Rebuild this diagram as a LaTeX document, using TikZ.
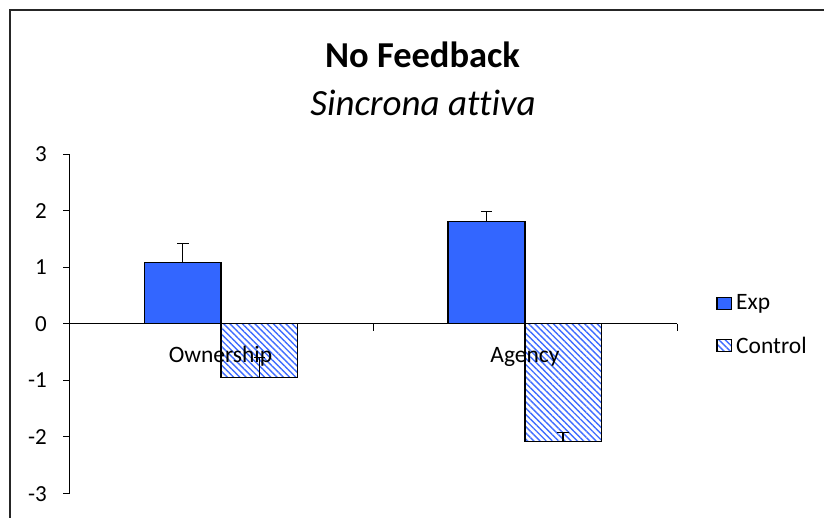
\documentclass[tikz,border=0pt]{standalone}
\usepackage{fontspec}
\setmainfont{Carlito}[Ligatures=NoCommon]
\usetikzlibrary{patterns.meta}
\definecolor{expblue}{HTML}{3366FF}
\definecolor{hatchblue}{HTML}{3F6CFF}
\tikzset{
  frame/.style={draw=black!85, line width=1.4pt},
  axisline/.style={draw=black, line width=1pt},
  expbar/.style={fill=expblue, draw=black, line width=1.5pt},
  ctrlbar/.style={pattern={Lines[angle=-45,distance=4.4pt,line width=1.4pt]}, pattern color=hatchblue, draw=black, line width=1.5pt},
  errbar/.style={draw=black, line width=1.3pt},
  ticklabel/.style={font=\fontsize{23}{26}\selectfont, anchor=east, inner sep=0pt},
  catlabel/.style={font=\fontsize{23.5}{27}\selectfont, anchor=base, inner sep=0pt},
  legendlabel/.style={font=\fontsize{23.5}{27}\selectfont, anchor=west, inner sep=0pt},
}
\begin{document}
\begin{tikzpicture}[x=1pt, y=-1pt]
\useasboundingbox (0,0) rectangle (824,517);
\begin{scope}
\clip (0,0) rectangle (824,517);
% outer chart frame (its right and bottom sides lie outside the page)
\draw[frame] (10,10) rectangle (840,540);

% titles
\node[font=\bfseries\fontsize{36.5}{42}\selectfont, anchor=base, inner sep=0pt] (title) at (422.5,67) {No Feedback};
\node[font=\itshape\fontsize{37}{42}\selectfont, anchor=base, inner sep=0pt] (subtitle) at (423,115) {Sincrona attiva};

% value axis
\coordinate (ytop) at (69.5,154);
\coordinate (ybot) at (69.5,493.7);
\draw[axisline] (ytop) -- (ybot);
\foreach \v/\y in {3/154,2/210.6,1/267.2,0/323.7,-1/380.3,-2/436.9,-3/493.7}{
  \draw[axisline] (63,\y) -- (69.5,\y);
  \node[ticklabel] (yl\v) at (47,\y) {\v};
}

% bars
\draw[expbar]  (144.5,323.7) rectangle (221,262.3);
\draw[ctrlbar] (221,323.7) rectangle (297.5,377.7);
\draw[expbar]  (448,323.7) rectangle (525,221.7);
\draw[ctrlbar] (525,323.7) rectangle (601.5,441.7);

% category axis
\coordinate (xleft) at (69.5,323.7);
\coordinate (xright) at (677,323.7);
\draw[axisline] (xleft) -- (xright);
\draw[axisline] (373.3,323.7) -- (373.3,330.5);
\draw[axisline] (677,323.7) -- (677,330.5);

% error bars
\draw[errbar] (182.75,262.3) -- (182.75,243.3) (177,243.3) -- (188.5,243.3);
\draw[errbar] (259.3,377.7) -- (259.3,357.7) (253.6,357.7) -- (265,357.7);
\draw[errbar] (486.5,221.7) -- (486.5,211.3) (480.8,211.3) -- (492.2,211.3);
\draw[errbar] (563,441.7) -- (563,432.3) (557.3,432.3) -- (568.7,432.3);

% category labels
\node[catlabel] (own) at (220.5,362) {Ownership};
\node[catlabel] (agy) at (525,362) {Agency};

% legend
\draw[expbar, line width=1.2pt] (717,297.5) rectangle (731.5,309.5);
\node[legendlabel] (lexp) at (736,303.5) {Exp};
\draw[ctrlbar, line width=1.2pt] (717,339.5) rectangle (731.5,351.5);
\node[legendlabel] (lctrl) at (736,345.5) {Control};
\end{scope}
\end{tikzpicture}
\end{document}
